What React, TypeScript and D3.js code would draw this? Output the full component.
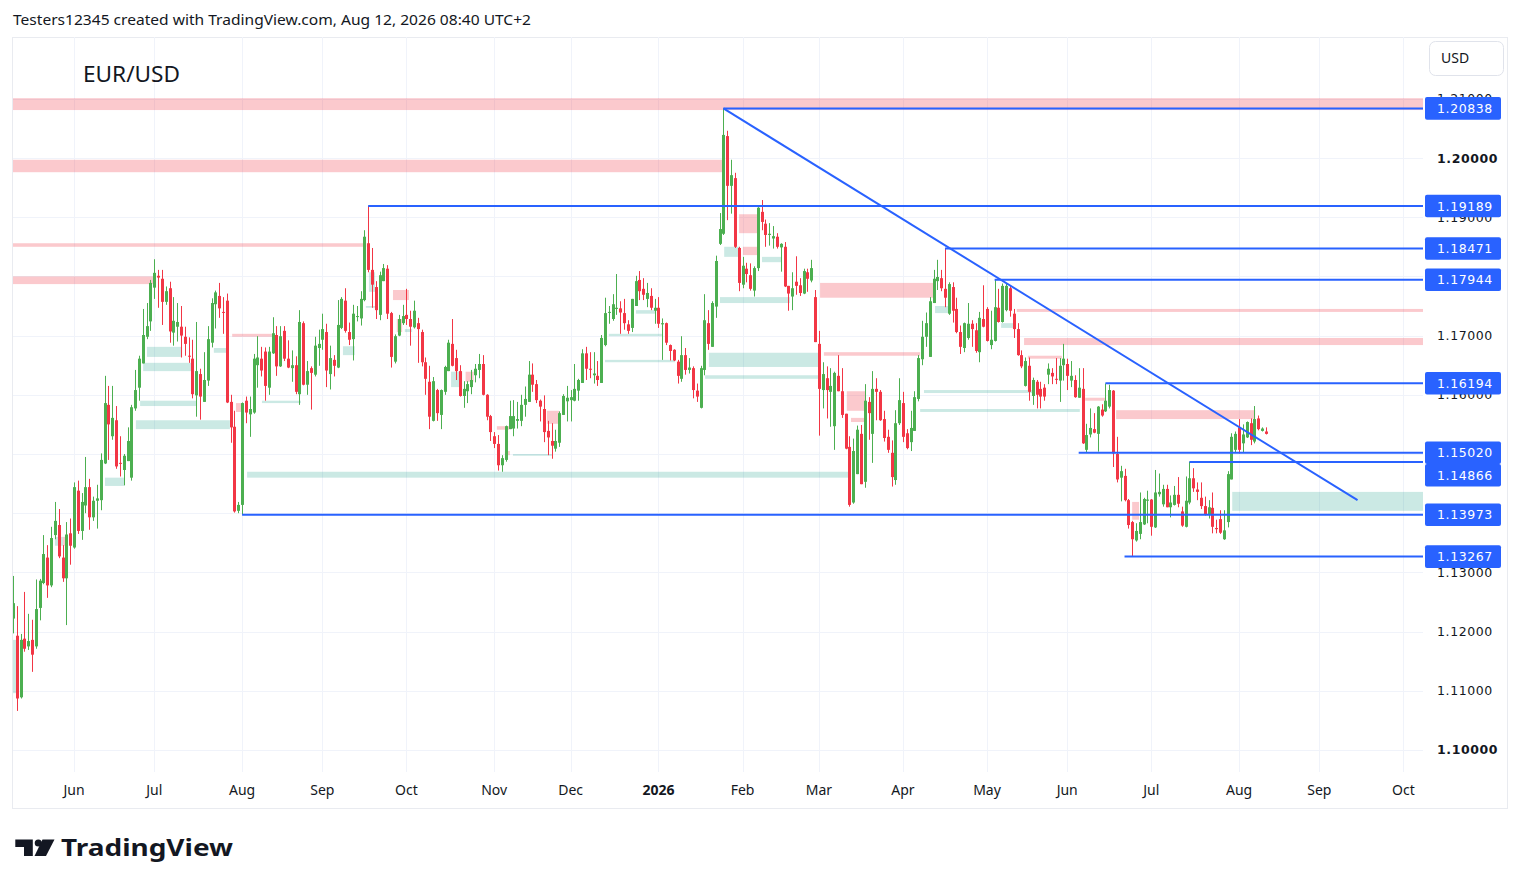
import { scaleLinear, utcDay } from 'd3';

// EUR/USD daily candles, May 2025 - Aug 2026, with the drawn levels and zones

type Bar = [number, number, number, number]; // open, high, low, close
type Zone = [number, number | null, number, number]; // from bar, to bar (null = right edge), top, bottom

const firstSession = Date.UTC(2025, 4, 9);
const axisEnd = Date.UTC(2026, 10, 1);

const candles2025: Bar[] = [
  [1.1222, 1.1294, 1.1197, 1.1248], [1.1193, 1.1243, 1.1066, 1.1087], [1.1089, 1.1196, 1.1087, 1.1186], [1.1188, 1.1267, 1.1166, 1.1171],
  [1.1175, 1.123, 1.1169, 1.1184], [1.1186, 1.122, 1.1132, 1.1161], [1.1175, 1.1288, 1.1171, 1.1238], [1.124, 1.1289, 1.1219, 1.1286],
  [1.1282, 1.1363, 1.128, 1.1331], [1.1325, 1.1346, 1.1257, 1.1278], [1.1278, 1.1377, 1.1275, 1.1358], [1.1363, 1.1419, 1.1356, 1.1387],
  [1.138, 1.1407, 1.1324, 1.1327], [1.1325, 1.1346, 1.1284, 1.129], [1.129, 1.1385, 1.1211, 1.1364], [1.1366, 1.1391, 1.1313, 1.1345],
  [1.1342, 1.1452, 1.134, 1.1444], [1.1438, 1.1455, 1.1365, 1.137], [1.137, 1.1434, 1.1355, 1.1419], [1.1413, 1.1495, 1.14, 1.1444],
  [1.1444, 1.1458, 1.1372, 1.1393], [1.1393, 1.1428, 1.1387, 1.1421], [1.1421, 1.1448, 1.1374, 1.1425], [1.1422, 1.1501, 1.1405, 1.149],
  [1.1484, 1.1632, 1.1483, 1.1586], [1.1583, 1.1615, 1.149, 1.155], [1.153, 1.1615, 1.1524, 1.1561], [1.1557, 1.1581, 1.1475, 1.1479],
  [1.1485, 1.153, 1.1462, 1.1484], [1.1473, 1.15, 1.1447, 1.1497], [1.1488, 1.1545, 1.1488, 1.1522], [1.146, 1.1583, 1.1455, 1.1579],
  [1.1577, 1.1642, 1.1573, 1.1608], [1.1612, 1.1666, 1.159, 1.1661], [1.1653, 1.1745, 1.1653, 1.1701], [1.1698, 1.1755, 1.1694, 1.1716],
  [1.1724, 1.1794, 1.1708, 1.1789], [1.1781, 1.1829, 1.1762, 1.1806], [1.1801, 1.1811, 1.1747, 1.1798], [1.1796, 1.1811, 1.1718, 1.1757],
  [1.1757, 1.1783, 1.1752, 1.1775], [1.178, 1.1791, 1.1688, 1.1707], [1.1705, 1.1765, 1.1683, 1.1725], [1.1715, 1.1755, 1.169, 1.1723],
  [1.1715, 1.175, 1.1663, 1.17], [1.1698, 1.1715, 1.1666, 1.1686], [1.1666, 1.1697, 1.1654, 1.1665], [1.1661, 1.1693, 1.1594, 1.1601],
  [1.1599, 1.1723, 1.1563, 1.164], [1.1635, 1.1644, 1.1558, 1.1597], [1.1588, 1.1672, 1.1588, 1.1625], [1.1624, 1.1716, 1.1615, 1.1694],
  [1.1688, 1.1763, 1.168, 1.1755], [1.1753, 1.1776, 1.1712, 1.1773], [1.1767, 1.1789, 1.173, 1.1746], [1.174, 1.1765, 1.1703, 1.1739],
  [1.1759, 1.1771, 1.1586, 1.1587], [1.1588, 1.16, 1.1519, 1.1545], [1.1546, 1.1573, 1.1401, 1.1403], [1.1404, 1.1419, 1.14, 1.1414],
  [1.1414, 1.1587, 1.1397, 1.1586], [1.159, 1.1597, 1.1552, 1.157], [1.1567, 1.1597, 1.1529, 1.1576], [1.157, 1.1669, 1.1568, 1.1661],
  [1.165, 1.1699, 1.1612, 1.1663], [1.1661, 1.1681, 1.1631, 1.1641], [1.1673, 1.168, 1.159, 1.1615], [1.1612, 1.1681, 1.16, 1.1673],
  [1.167, 1.1731, 1.1669, 1.1704], [1.1701, 1.1716, 1.1632, 1.1648], [1.1648, 1.1716, 1.1647, 1.1699], [1.1708, 1.1716, 1.1657, 1.1661],
  [1.1661, 1.1692, 1.1645, 1.1646], [1.1645, 1.1675, 1.1622, 1.165], [1.165, 1.1665, 1.1601, 1.1605], [1.1601, 1.1743, 1.1583, 1.1723],
  [1.1721, 1.1724, 1.1616, 1.1617], [1.1617, 1.1657, 1.16, 1.164], [1.1645, 1.1648, 1.1575, 1.1637], [1.1634, 1.1698, 1.1631, 1.1683],
  [1.1679, 1.171, 1.1649, 1.1686], [1.1693, 1.1737, 1.1676, 1.1711], [1.1706, 1.172, 1.1613, 1.1641], [1.1635, 1.1683, 1.1609, 1.1662],
  [1.1659, 1.1667, 1.1631, 1.1649], [1.1646, 1.176, 1.1645, 1.1718], [1.1713, 1.1765, 1.1711, 1.1762], [1.1759, 1.178, 1.1705, 1.1708],
  [1.1706, 1.1722, 1.1684, 1.1693], [1.1694, 1.1752, 1.1658, 1.1737], [1.1732, 1.175, 1.1724, 1.1733], [1.1729, 1.1775, 1.1717, 1.1762],
  [1.176, 1.1878, 1.1758, 1.1867], [1.1856, 1.1919, 1.1807, 1.1811], [1.1811, 1.1848, 1.1747, 1.1786], [1.1782, 1.1792, 1.1728, 1.1743],
  [1.1735, 1.1808, 1.1726, 1.1802], [1.1792, 1.1821, 1.1792, 1.1814], [1.1813, 1.1819, 1.1728, 1.1737], [1.1738, 1.174, 1.1646, 1.1664],
  [1.1656, 1.1702, 1.1653, 1.1699], [1.17, 1.1735, 1.1699, 1.1728], [1.1721, 1.1752, 1.1718, 1.1733], [1.1735, 1.1779, 1.1718, 1.1728],
  [1.1728, 1.1742, 1.1683, 1.1715], [1.1714, 1.1759, 1.1712, 1.1742], [1.1721, 1.173, 1.1654, 1.1711], [1.1706, 1.171, 1.1648, 1.1655],
  [1.1655, 1.1663, 1.16, 1.1627], [1.1622, 1.1649, 1.1542, 1.1563], [1.1556, 1.163, 1.1555, 1.1623], [1.1608, 1.161, 1.1556, 1.1569],
  [1.1566, 1.1609, 1.1542, 1.1608], [1.1605, 1.1649, 1.16, 1.1647], [1.164, 1.1693, 1.164, 1.1688], [1.1686, 1.1728, 1.1648, 1.1649],
  [1.1662, 1.1676, 1.1625, 1.164], [1.164, 1.165, 1.1597, 1.1598], [1.1598, 1.1623, 1.1578, 1.161], [1.1606, 1.1623, 1.1586, 1.1618],
  [1.1613, 1.1642, 1.1601, 1.1625], [1.1633, 1.1652, 1.1621, 1.1644], [1.1642, 1.1669, 1.1628, 1.1652], [1.1652, 1.1667, 1.1599, 1.16],
  [1.16, 1.1601, 1.1557, 1.1563], [1.1564, 1.1566, 1.1522, 1.1537], [1.153, 1.1537, 1.151, 1.1517], [1.1517, 1.1532, 1.1472, 1.1481],
  [1.1481, 1.1498, 1.147, 1.1493], [1.149, 1.1548, 1.1487, 1.1547], [1.1542, 1.159, 1.1542, 1.1564], [1.1543, 1.1591, 1.153, 1.1564],
  [1.1556, 1.1588, 1.1543, 1.1559], [1.1556, 1.16, 1.1547, 1.1583], [1.1583, 1.1614, 1.1563, 1.1593], [1.1588, 1.1657, 1.1588, 1.1634],
  [1.1634, 1.1653, 1.1605, 1.1617], [1.1618, 1.1625, 1.1586, 1.1591], [1.159, 1.1592, 1.1555, 1.158], [1.1576, 1.1599, 1.152, 1.1537],
  [1.1539, 1.1556, 1.1498, 1.1528], [1.1522, 1.1552, 1.1492, 1.1514], [1.1509, 1.1541, 1.1504, 1.1522], [1.1519, 1.1572, 1.1512, 1.1569],
  [1.1566, 1.1601, 1.1566, 1.1598], [1.1589, 1.1615, 1.1555, 1.1595], [1.1591, 1.1608, 1.1555, 1.1596], [1.159, 1.1652, 1.1589, 1.161],
  [1.1607, 1.1627, 1.159, 1.1625], [1.162, 1.1677, 1.162, 1.167], [1.167, 1.1681, 1.1625, 1.1644], [1.1644, 1.1672, 1.1628, 1.1643],
  [1.1633, 1.1672, 1.1619, 1.1636], [1.1632, 1.1657, 1.1615, 1.1625], [1.162, 1.1701, 1.162, 1.1696], [1.1684, 1.1764, 1.1682, 1.1738],
  [1.1739, 1.175, 1.172, 1.174], [1.1728, 1.177, 1.1725, 1.1753], [1.1745, 1.1804, 1.1735, 1.1747], [1.1746, 1.1758, 1.1703, 1.1739],
  [1.1738, 1.1762, 1.171, 1.1721], [1.1719, 1.1726, 1.1703, 1.1708], [1.1713, 1.1762, 1.1706, 1.1762], [1.175, 1.1801, 1.175, 1.1792],
  [1.1794, 1.1809, 1.176, 1.1775], [1.1779, 1.1797, 1.176, 1.1769], [1.1762, 1.1789, 1.1748, 1.1772], [1.1767, 1.178, 1.1743, 1.1747],
  [1.1742, 1.1762, 1.172, 1.1747],
];

const candles2026: Bar[] = [
  [1.1747, 1.1765, 1.1713, 1.172], [1.1719, 1.1729, 1.1659, 1.1721], [1.1721, 1.1722, 1.1684, 1.1688], [1.1684, 1.1685, 1.1658, 1.1674],
  [1.1676, 1.1677, 1.1657, 1.1658], [1.1656, 1.1659, 1.1619, 1.1632], [1.1627, 1.1699, 1.1622, 1.1667], [1.1667, 1.1679, 1.1634, 1.1642],
  [1.1642, 1.1662, 1.1636, 1.1646], [1.1645, 1.1648, 1.1594, 1.1608], [1.1607, 1.1619, 1.1588, 1.1597], [1.1578, 1.1649, 1.1577, 1.1645],
  [1.1642, 1.177, 1.1633, 1.1726], [1.1721, 1.1743, 1.1676, 1.1686], [1.1681, 1.1758, 1.1681, 1.1755], [1.1749, 1.1835, 1.173, 1.1826],
  [1.1855, 1.1907, 1.1853, 1.188], [1.1872, 1.2084, 1.187, 1.2039], [1.2037, 1.2046, 1.1895, 1.1953], [1.1953, 1.1997, 1.1906, 1.1971],
  [1.1966, 1.1975, 1.1848, 1.185], [1.1848, 1.185, 1.1775, 1.1789], [1.1786, 1.1833, 1.178, 1.1818], [1.1813, 1.1823, 1.179, 1.1804],
  [1.1802, 1.1822, 1.1776, 1.1779], [1.1776, 1.1817, 1.1766, 1.1814], [1.1814, 1.1917, 1.1809, 1.1916], [1.1909, 1.1929, 1.1878, 1.1892],
  [1.1889, 1.1896, 1.185, 1.187], [1.187, 1.189, 1.1852, 1.1872], [1.1864, 1.1885, 1.1847, 1.1868], [1.1867, 1.1873, 1.1847, 1.185],
  [1.1849, 1.1856, 1.1808, 1.1855], [1.185, 1.1858, 1.1782, 1.1783], [1.1784, 1.1784, 1.1742, 1.1771], [1.1766, 1.1807, 1.1743, 1.178],
  [1.1791, 1.1834, 1.1769, 1.1784], [1.1785, 1.1797, 1.1767, 1.1772], [1.1771, 1.1813, 1.177, 1.1809], [1.1807, 1.1813, 1.1774, 1.1796],
  [1.1793, 1.1828, 1.179, 1.1814], [1.1765, 1.1777, 1.1689, 1.1689], [1.1686, 1.1708, 1.1531, 1.161], [1.1608, 1.1655, 1.1577, 1.1635],
  [1.1628, 1.1648, 1.156, 1.1608], [1.1605, 1.1645, 1.1546, 1.1615], [1.1547, 1.1639, 1.1507, 1.1637], [1.1632, 1.1667, 1.1606, 1.1606],
  [1.1606, 1.1645, 1.1561, 1.1566], [1.1568, 1.1568, 1.1508, 1.1509], [1.1512, 1.153, 1.1411, 1.1414], [1.1418, 1.1526, 1.1416, 1.1505],
  [1.1466, 1.1548, 1.1466, 1.1541], [1.1534, 1.1549, 1.1449, 1.1449], [1.1453, 1.1618, 1.1443, 1.159], [1.1588, 1.1596, 1.1524, 1.1569],
  [1.1534, 1.164, 1.1485, 1.161], [1.161, 1.1628, 1.1557, 1.1605], [1.1605, 1.1608, 1.1556, 1.1557], [1.1559, 1.1573, 1.1521, 1.1527],
  [1.1529, 1.1541, 1.1502, 1.1507], [1.1502, 1.1523, 1.1445, 1.1461], [1.1456, 1.1574, 1.1448, 1.1552], [1.1552, 1.1628, 1.1549, 1.1591],
  [1.1586, 1.1605, 1.152, 1.1529], [1.1535, 1.1542, 1.1508, 1.151], [1.152, 1.1573, 1.1505, 1.1544], [1.1539, 1.1606, 1.1539, 1.1596],
  [1.1593, 1.1667, 1.1589, 1.1662], [1.166, 1.1725, 1.165, 1.1698], [1.1698, 1.1739, 1.1681, 1.1721], [1.1664, 1.1765, 1.1664, 1.1758],
  [1.1755, 1.1811, 1.1755, 1.1796], [1.1792, 1.1828, 1.1777, 1.1799], [1.1797, 1.1811, 1.1775, 1.178], [1.1779, 1.1847, 1.1748, 1.1764],
  [1.1737, 1.179, 1.1735, 1.1787], [1.1782, 1.179, 1.1722, 1.1742], [1.1745, 1.1764, 1.1704, 1.1706], [1.1706, 1.1717, 1.1669, 1.1681],
  [1.1679, 1.1722, 1.1672, 1.1721], [1.1696, 1.1755, 1.1693, 1.172], [1.172, 1.1726, 1.1681, 1.1711], [1.1709, 1.1721, 1.1671, 1.1674],
  [1.1672, 1.174, 1.1655, 1.173], [1.1728, 1.1785, 1.1714, 1.1715], [1.1745, 1.1748, 1.169, 1.1691], [1.1684, 1.1742, 1.1677, 1.1693],
  [1.1691, 1.1794, 1.169, 1.1748], [1.1747, 1.1779, 1.1722, 1.1723], [1.1723, 1.1788, 1.1722, 1.1784], [1.1743, 1.1788, 1.1741, 1.1784],
  [1.178, 1.1785, 1.1732, 1.1742], [1.1737, 1.1745, 1.1696, 1.1711], [1.1711, 1.1721, 1.1666, 1.1667], [1.1667, 1.1675, 1.1645, 1.1648],
  [1.1615, 1.1663, 1.1614, 1.1657], [1.1649, 1.1663, 1.159, 1.1605], [1.1598, 1.1629, 1.1583, 1.1625], [1.1622, 1.1625, 1.1577, 1.16],
  [1.161, 1.1622, 1.1577, 1.1597], [1.1612, 1.1618, 1.159, 1.1597], [1.1634, 1.1653, 1.1618, 1.1644], [1.1637, 1.1645, 1.1618, 1.1631],
  [1.1627, 1.1662, 1.1618, 1.1626], [1.1624, 1.1662, 1.1588, 1.1649], [1.165, 1.1686, 1.1624, 1.1661], [1.1652, 1.1661, 1.1608, 1.1632],
  [1.1624, 1.1657, 1.1613, 1.1632], [1.1625, 1.1633, 1.1595, 1.1596], [1.1595, 1.1645, 1.1595, 1.1612], [1.161, 1.1645, 1.1517, 1.1518],
  [1.1507, 1.1551, 1.1502, 1.1532], [1.1533, 1.1577, 1.1528, 1.1544], [1.1542, 1.1569, 1.1535, 1.1536], [1.1534, 1.1581, 1.1504, 1.158],
  [1.1575, 1.1584, 1.1563, 1.1565], [1.1572, 1.1619, 1.1571, 1.159], [1.158, 1.1617, 1.1577, 1.1608], [1.1607, 1.1608, 1.1478, 1.1501],
  [1.15, 1.1529, 1.1452, 1.1457], [1.146, 1.148, 1.142, 1.1471], [1.1463, 1.1475, 1.142, 1.1422], [1.1422, 1.1424, 1.1374, 1.138],
  [1.1385, 1.1387, 1.1327, 1.1356], [1.1354, 1.1383, 1.1352, 1.137], [1.1365, 1.1435, 1.1356, 1.1385], [1.1381, 1.1426, 1.138, 1.1424],
  [1.1421, 1.1438, 1.1383, 1.1423], [1.1423, 1.1424, 1.1362, 1.1377], [1.1376, 1.1473, 1.1375, 1.1435], [1.1432, 1.1467, 1.1428, 1.1436],
  [1.1415, 1.1448, 1.1411, 1.1441], [1.1441, 1.1448, 1.141, 1.141], [1.141, 1.143, 1.1393, 1.1418], [1.1414, 1.1446, 1.1413, 1.1431],
  [1.1431, 1.1461, 1.141, 1.1416], [1.1403, 1.1411, 1.1377, 1.1379], [1.1377, 1.1462, 1.1376, 1.1421], [1.1418, 1.1487, 1.1415, 1.1459],
  [1.1459, 1.1476, 1.1436, 1.1442], [1.144, 1.1452, 1.1422, 1.1436], [1.1426, 1.1452, 1.1407, 1.1412], [1.1412, 1.1428, 1.1396, 1.1397],
  [1.1398, 1.1422, 1.1391, 1.141], [1.1409, 1.1435, 1.1366, 1.1377], [1.1375, 1.1389, 1.1366, 1.1373], [1.139, 1.1405, 1.1365, 1.1367],
  [1.1356, 1.1405, 1.1355, 1.1371], [1.1385, 1.1471, 1.1376, 1.1466], [1.1457, 1.1535, 1.1457, 1.1529], [1.1507, 1.1538, 1.1502, 1.1534],
  [1.1545, 1.1559, 1.1501, 1.1507], [1.1518, 1.155, 1.1502, 1.1533], [1.1528, 1.1555, 1.1527, 1.1554], [1.1552, 1.156, 1.1515, 1.1524],
  [1.1521, 1.1581, 1.1518, 1.1559], [1.156, 1.1565, 1.154, 1.1542], [1.1539, 1.1545, 1.1538, 1.1543], [1.1538, 1.1545, 1.1533, 1.1534],
];

// horizontal rays: price and the bar they start from
const levelPrices = [1.20838, 1.19189, 1.18471, 1.17944, 1.16194, 1.1502, 1.14866, 1.13973, 1.13267];
const levelStartBars = [186, 93, 244, 257, 286, 279, 308, 60, 291];

// falling trendline from the January high
const trendBars = [186, 352];
const trendPrices = [1.20838, 1.1422];

const supplyZones: Zone[] = [
  [0, null, 1.2101, 1.2081], [0, 186, 1.1997, 1.1976], [0, 92.5, 1.1856, 1.185], [0, 37, 1.18, 1.1787],
  [99.5, 103.7, 1.1777, 1.176], [57.4, 67.8, 1.1703, 1.1698], [58.4, 60, 1.1586, 1.1571], [13.1, 14, 1.136, 1.1345],
  [100.5, 101.9, 1.1728, 1.1706], [118.5, 120.6, 1.1639, 1.1622], [126.7, 129.9, 1.1547, 1.1541], [128.8, 130.1, 1.1505, 1.1498],
  [139.8, 143, 1.1573, 1.1551], [190.1, 195.3, 1.1905, 1.1873], [191.1, 195.3, 1.185, 1.1836], [211.3, 241.1, 1.1789, 1.1764],
  [212.3, 237.5, 1.1672, 1.1666], [218.3, 223.3, 1.1606, 1.1573], [219.4, 223.3, 1.1561, 1.1554], [262.8, null, 1.1745, 1.174],
  [264.7, null, 1.1696, 1.1684], [265.7, 274.6, 1.1666, 1.1661], [280.7, 285.9, 1.1595, 1.159], [288.8, 325.2, 1.1574, 1.1559],
  [293, 294.8, 1.1419, 1.1389],
];

const demandZones: Zone[] = [
  [0, 1.6, 1.1186, 1.1096], [11, 13.1, 1.136, 1.1345], [24.1, 29.1, 1.146, 1.1446], [35.1, 44.3, 1.1681, 1.1664],
  [34.1, 46.9, 1.1654, 1.164], [33.3, 48.2, 1.159, 1.1581], [32.2, 56.8, 1.1557, 1.1542], [52.6, 56, 1.1679, 1.1671],
  [61.3, 219.1, 1.147, 1.146], [65.2, 75.4, 1.159, 1.1586], [86.4, 89.5, 1.1682, 1.1667], [93.2, 94.8, 1.1807, 1.1774],
  [92.4, 94.8, 1.175, 1.1747], [102.6, 104.5, 1.1711, 1.1706], [114.7, 117.6, 1.1639, 1.1613], [130.9, 141.1, 1.15, 1.1497],
  [156, 169.9, 1.1703, 1.1699], [155, 173.3, 1.1659, 1.1655], [163.1, 168.1, 1.1743, 1.1737], [182.2, 211, 1.1671, 1.1647],
  [181.2, 211, 1.1633, 1.1627], [185.1, 203.4, 1.1765, 1.1755], [186.2, 190.1, 1.185, 1.1833], [196.1, 201.3, 1.1833, 1.1824],
  [238.5, 266.8, 1.1608, 1.1603], [237.5, 279.3, 1.1576, 1.1571], [241.4, 245.1, 1.175, 1.1738], [258.7, 262.3, 1.1721, 1.1713],
  [319.2, null, 1.1436, 1.1404],
];

const priceTicks = [1.1, 1.11, 1.12, 1.13, 1.14, 1.15, 1.16, 1.17, 1.18, 1.19, 1.2, 1.21];
const monthLabels = ['Jun', 'Jul', 'Aug', 'Sep', 'Oct', 'Nov', 'Dec', '2026', 'Feb', 'Mar', 'Apr', 'May', 'Jun', 'Jul', 'Aug', 'Sep', 'Oct'];

const UP = '#4caf50';
const DOWN = '#f23645';
const BLUE = '#2962ff';
const TEXT = '#131722';
const GRID = '#f0f3fa';
const FONT = "'Noto Sans', 'DejaVu Sans', sans-serif";
const AXIS_FONT = "'DejaVu Sans', 'Noto Sans', sans-serif";

const plot = { left: 13, right: 1423, top: 37, bottom: 772 };

export default function App() {
  const candles = [...candles2025, ...candles2026];

  const sessions = utcDay
    .range(new Date(firstSession), new Date(axisEnd))
    .filter((d) => d.getUTCDay() !== 0 && d.getUTCDay() !== 6);
  const monthStarts = sessions
    .map((_, i) => i)
    .filter((i) => i > 0 && sessions[i].getUTCMonth() !== sessions[i - 1].getUTCMonth());

  const x = scaleLinear().domain([0, 369]).range([12.9, 12.9 + 369 * 3.82]);
  const y = scaleLinear().domain([1.09628, 1.22044]).range([plot.bottom, plot.top]);

  const zoneRect = (z: Zone, fill: string, key: string) => {
    const x0 = x(z[0]);
    const x1 = z[1] === null ? plot.right : x(z[1]);
    const y0 = y(z[2]);
    const y1 = y(z[3]);
    return <rect key={key} x={x0} y={y0} width={x1 - x0} height={Math.max(1.5, y1 - y0)} fill={fill} />;
  };

  // price labels on the axis, pushed down when they collide
  const labels = levelPrices
    .map((p) => ({ p, cy: y(p) }))
    .sort((a, b) => a.cy - b.cy);
  for (let k = 1; k < labels.length; k++) {
    if (labels[k].cy - labels[k - 1].cy < 22.5) labels[k].cy = labels[k - 1].cy + 22.5;
  }
  // a tick whose text sits fully under a level label is not shown (as on the axis)
  const hiddenTick = (p: number) => labels.some((l) => Math.abs(l.cy - y(p)) < 6);

  return (
    <div style={{ position: 'absolute', left: 0, top: 0 }}>
      <svg width={1520} height={890} style={{ display: 'block', background: '#fff' }}>
        <defs>
          <clipPath id="plot">
            <rect x={plot.left} y={plot.top} width={plot.right - plot.left} height={plot.bottom - plot.top} />
          </clipPath>
        </defs>

        <text x={13} y={25} fontFamily={FONT} fontSize={14} fill={TEXT} textLength={518} lengthAdjust="spacingAndGlyphs">
          Testers12345 created with TradingView.com, Aug 12, 2026 08:40 UTC+2
        </text>

        <rect x={12.5} y={37.5} width={1495} height={771} fill="#fff" stroke="#e9ebf0" />

        <g clipPath="url(#plot)">
          {priceTicks.map((p) => (
            <line key={p} x1={plot.left} x2={plot.right} y1={Math.round(y(p)) + 0.5} y2={Math.round(y(p)) + 0.5} stroke={GRID} />
          ))}
          {monthStarts.map((i) => (
            <line key={i} x1={Math.round(x(i)) + 0.5} x2={Math.round(x(i)) + 0.5} y1={plot.top} y2={plot.bottom} stroke={GRID} />
          ))}

          {supplyZones.map((z, k) => zoneRect(z, 'rgba(242, 54, 69, 0.27)', `s${k}`))}
          {demandZones.map((z, k) => zoneRect(z, 'rgba(8, 153, 129, 0.21)', `d${k}`))}

          {candles.map(([o, h, l, c], i) => {
            const cx = Math.round(x(i));
            const color = c >= o ? UP : DOWN;
            const top = y(Math.max(o, c));
            const bot = y(Math.min(o, c));
            return (
              <g key={i} fill={color}>
                <rect x={cx} y={y(h)} width={1} height={y(l) - y(h)} />
                <rect x={cx - 1} y={top} width={3} height={Math.max(1, bot - top)} />
              </g>
            );
          })}

          {levelPrices.map((p, k) => (
            <line key={p} x1={x(levelStartBars[k])} x2={plot.right} y1={y(p)} y2={y(p)} stroke={BLUE} strokeWidth={2} />
          ))}
          <line
            x1={x(trendBars[0])}
            y1={y(trendPrices[0])}
            x2={x(trendBars[1])}
            y2={y(trendPrices[1])}
            stroke={BLUE}
            strokeWidth={2}
          />
        </g>

        <text x={83} y={82} fontFamily={FONT} fontSize={21} fill={TEXT} textLength={97} lengthAdjust="spacingAndGlyphs">
          EUR/USD
        </text>

        {/* price axis */}
        {priceTicks
          .filter((p) => !hiddenTick(p))
          .map((p) => (
            <text
              key={p}
              x={1437}
              y={y(p) + 4.5}
              fontFamily={AXIS_FONT}
              fontSize={12.5}
              letterSpacing={0.6}
              fontWeight={Math.round(p * 100) % 10 === 0 ? 'bold' : 'normal'}
              fill={TEXT}
            >
              {p.toFixed(5)}
            </text>
          ))}
        {labels.map(({ p, cy }) => (
          <g key={p}>
            <rect x={1425} y={cy - 11.3} width={76} height={22.6} rx={2} fill={BLUE} />
            <text x={1437} y={cy + 4.6} fontFamily={AXIS_FONT} fontSize={12.5} letterSpacing={0.6} fill="#fff">
              {p.toFixed(5)}
            </text>
          </g>
        ))}

        <rect x={1429.5} y={41.5} width={74} height={34} rx={6} fill="#fff" stroke="#e0e3eb" />
        <text x={1441} y={63} fontFamily={FONT} fontSize={14} fill={TEXT}>
          USD
        </text>

        {/* time axis */}
        {monthStarts.map((i, k) => (
          <text
            key={i}
            x={x(i)}
            y={795}
            textAnchor="middle"
            fontFamily={FONT}
            fontSize={14}
            fontWeight={monthLabels[k] === '2026' ? 'bold' : 'normal'}
            fill={TEXT}
          >
            {monthLabels[k]}
          </text>
        ))}

        {/* TradingView mark */}
        <g fill={TEXT}>
          <path d="M15.3,839.5 H32.8 V856 H24 V847 H15.3 Z" />
          <circle cx={38.3} cy={843} r={3.6} />
          <path d="M42.5,839.5 H54.5 L46,856 H34.5 Z" />
        </g>
        <text x={61} y={856} fontFamily={FONT} fontSize={23} fontWeight="bold" fill={TEXT} textLength={172} lengthAdjust="spacingAndGlyphs">
          TradingView
        </text>
      </svg>
    </div>
  );
}
